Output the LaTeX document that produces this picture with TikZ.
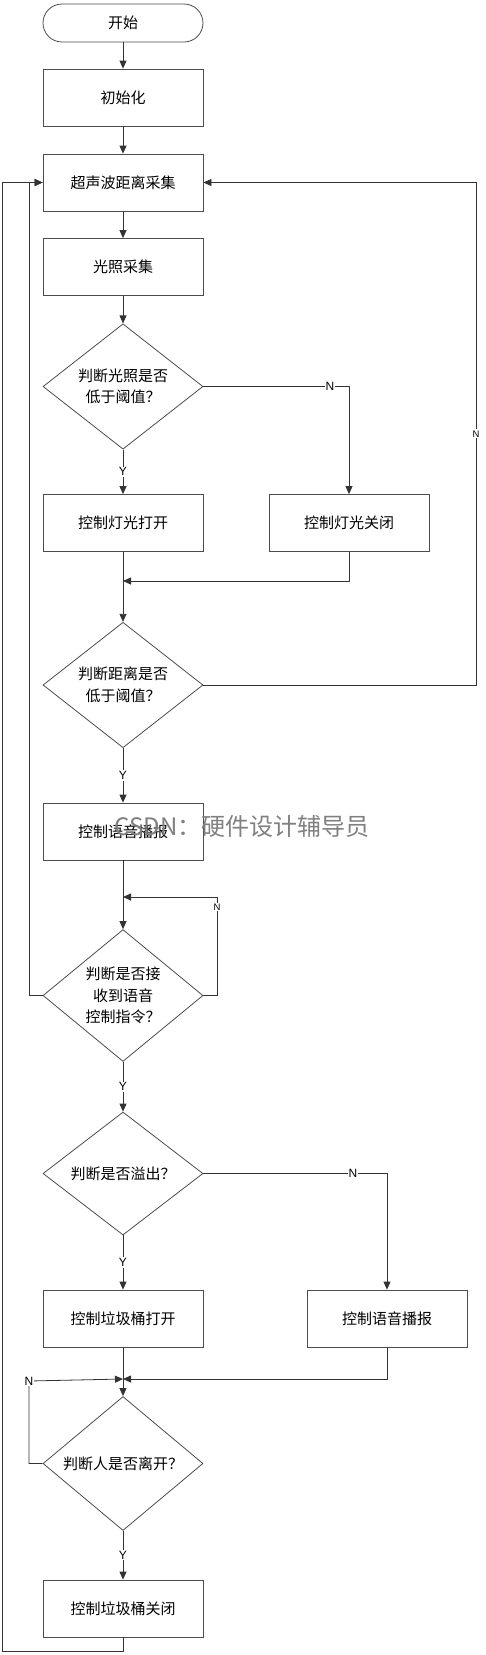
\documentclass[tikz,border=0pt]{standalone}
\usepackage{fontspec}
\setmainfont{Liberation Sans}
\newfontfamily\cjk{Noto Sans CJK SC}
\usetikzlibrary{shapes.geometric,arrows.meta}

\begin{document}
\begin{tikzpicture}[x=1pt, y=-1pt,
		box/.style={draw=black!70, line width=0.8pt, minimum width=160pt, minimum height=57pt, inner sep=0pt, font=\cjk\fontsize{15}{21}\selectfont},
		term/.style={box, minimum height=38pt, rounded corners=19pt},
		decide/.style={diamond, draw=black!70, line width=0.8pt, minimum width=160pt, minimum height=123pt, inner sep=0pt, align=center, font=\cjk\fontsize{15}{21.5}\selectfont},
		yn/.style={fill=white, inner sep=1pt, font=\fontsize{12}{12}\selectfont},
		ynsmall/.style={yn, font=\fontsize{9.5}{9.5}\selectfont},
		line/.style={draw=black!80, line width=0.8pt},
		arr/.style={line, -{Triangle[length=8pt,width=7pt]}}]
	\useasboundingbox (0,0) rectangle (486,1655);
	
	% Steps
	\node[term]   (start)    at (123,23)     {开始};
	\node[box]    (init)     at (123,97.5)   {初始化};
	\node[box]    (dist)     at (123,182.5)  {超声波距离采集};
	\node[box]    (light)    at (123,267)    {光照采集};
	\node[decide] (qlight)   at (123,386.5)  {判断光照是否\\低于阈值？};
	\node[box]    (lon)      at (123,523)    {控制灯光打开};
	\node[box]    (loff)     at (349,523)    {控制灯光关闭};
	\node[decide] (qdist)    at (123,685)    {判断距离是否\\低于阈值？};
	\node[box]    (voice)    at (123,831.5)  {控制语音播报};
	\node[decide] (qcmd)     at (123,995.5)  {判断是否接\\收到语音\\控制指令？};
	\node[decide] (qfull)    at (123,1173.5) {判断是否溢出？};
	\node[box]    (lidopen)  at (123,1318.5) {控制垃圾桶打开};
	\node[box]    (voicetwo) at (387,1318.5) {控制语音播报};
	\node[decide] (qleave)   at (123,1463.5) {判断人是否离开？};
	\node[box]    (lidclose) at (123,1608.5) {控制垃圾桶关闭};
	
	% Bends of the loops
	\coordinate (m1) at (123,581);
	\coordinate (m2) at (123,1379);
	\coordinate (r1) at (476,685);
	\coordinate (r2) at (476,182.5);
	\coordinate (c1) at (217,995.5);
	\coordinate (c2) at (217,897);
	\coordinate (c3) at (123,897);
	\coordinate (a1) at (29,995.5);
	\coordinate (a2) at (29,182.5);
	\coordinate (l1) at (29,1463.5);
	\coordinate (l2) at (29,1381);
	\coordinate (b1) at (123,1651);
	\coordinate (b2) at (2,1651);
	\coordinate (b3) at (2,182.5);
	
	% Straight arrows
	\foreach \a/\b in {start/init, init/dist, dist/light, light/qlight, lon/qdist, voice/qcmd, lidopen/qleave}
		\draw[arr] (\a) -- (\b);
	
	% Yes branches
	\foreach \a/\b in {qlight/lon, qdist/voice, qcmd/qfull, qfull/lidopen, qleave/lidclose}
		\draw[arr] (\a) -- node[yn] {Y} (\b);
	
	% No branches and loops
	\draw[arr] (qlight.east) -- node[yn, pos=0.87] {N} (qlight.east -| loff) -- (loff);
	\draw[arr] (loff) |- (m1);
	\draw[arr] (qdist.east) -- (r1) -- node[ynsmall] {N} (r2) -- (dist.east);
	\draw[arr] (qcmd.east) -- (c1) -- node[ynsmall, pos=0.9] {N} (c2) -- (c3);
	\draw[arr] (qcmd.west) -- (a1) -- (a2) -- (dist.west);
	\draw[arr] (qfull.east) -- node[yn, pos=0.815] {N} (qfull.east -| voicetwo) -- (voicetwo);
	\draw[arr] (voicetwo) |- (m2);
	\draw[arr] (qleave.west) -- (l1) -- (l2) node[yn] {N} -- (m2);
	\draw[arr] (lidclose) -- (b1) -- (b2) -- (b3) -- (dist.west);
	
	% Watermark
	\node[text=black!50, font=\cjk\fontsize{24}{24}\selectfont] (mark) at (242,826) {CSDN：硬件设计辅导员};
\end{tikzpicture}
\end{document}
